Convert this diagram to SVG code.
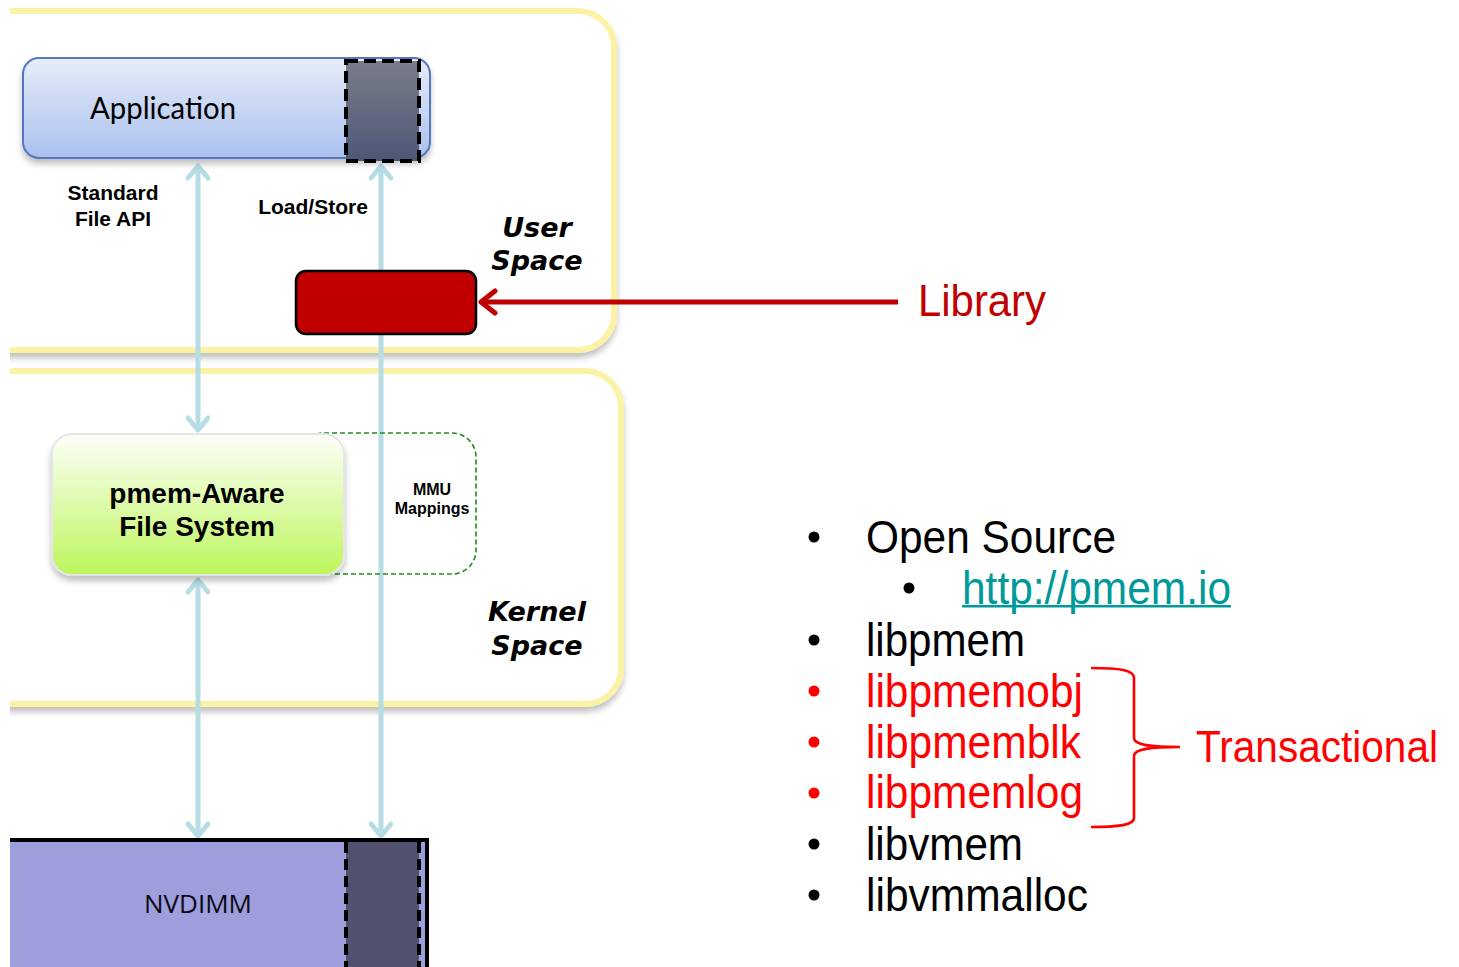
<svg xmlns="http://www.w3.org/2000/svg" width="1459" height="967" viewBox="0 0 1459 967">
  <defs>
    <linearGradient id="gApp" x1="0" y1="0" x2="0" y2="1">
      <stop offset="0" stop-color="#e6edfa"/>
      <stop offset="1" stop-color="#aac0ee"/>
    </linearGradient>
    <linearGradient id="gDark" x1="0" y1="0" x2="0" y2="1">
      <stop offset="0" stop-color="#7b7e89"/>
      <stop offset="1" stop-color="#4c5677"/>
    </linearGradient>
    <linearGradient id="gFs" x1="0" y1="0" x2="0" y2="1">
      <stop offset="0" stop-color="#fdfff8"/>
      <stop offset="1" stop-color="#bdf65c"/>
    </linearGradient>
    <filter id="shadow" x="-10%" y="-10%" width="120%" height="130%">
      <feGaussianBlur in="SourceAlpha" stdDeviation="3"/>
      <feOffset dx="0" dy="5" result="b"/>
      <feComponentTransfer><feFuncA type="linear" slope="0.25"/></feComponentTransfer>
      <feMerge><feMergeNode/><feMergeNode in="SourceGraphic"/></feMerge>
    </filter>
    <clipPath id="page"><rect x="10" y="0" width="1449" height="967"/></clipPath>
    <marker id="chev" viewBox="-16 -12 20 24" refX="0" refY="0" markerWidth="20" markerHeight="24" markerUnits="userSpaceOnUse" orient="auto-start-reverse">
      <path d="M-12,-10 L0,0 L-12,10" fill="none" stroke="#b5dde3" stroke-width="5" stroke-linecap="round" stroke-linejoin="round"/>
    </marker>
    <marker id="redchev" viewBox="-18 -14 22 28" refX="0" refY="0" markerWidth="22" markerHeight="28" markerUnits="userSpaceOnUse" orient="auto">
      <path d="M-14,-11 L0,0 L-14,11" fill="none" stroke="#c00000" stroke-width="5" stroke-linecap="round" stroke-linejoin="round"/>
    </marker>
    <style>
      .frame { fill: #ffffff; stroke: #fbf2a6; stroke-width: 6; }
      .flow { fill: none; stroke: #b5dde3; stroke-width: 5; }
      .lbl { font-family: "Liberation Sans", Arial, sans-serif; font-weight: bold; fill: #000; text-anchor: middle; }
      .zone { font-family: "DejaVu Sans", sans-serif; font-weight: bold; font-style: italic; font-size: 27px; fill: #000; text-anchor: middle; }
      .item { font-family: "Liberation Sans", Arial, sans-serif; font-size: 46px; }
      .blk { fill: #000; }
      .red { fill: #ff0000; }
    </style>
  </defs>

  <rect width="1459" height="967" fill="#ffffff"/>

  <!-- user / kernel space frames, left side runs off the page -->
  <g clip-path="url(#page)">
    <g id="user-space" filter="url(#shadow)">
      <rect class="frame" x="-60" y="11" width="674" height="339" rx="36"/>
    </g>
    <g id="kernel-space" filter="url(#shadow)">
      <rect class="frame" x="-60" y="371" width="681" height="333" rx="36"/>
    </g>
  </g>
  <text class="zone" x="537" y="237">User</text>
  <text class="zone" x="537" y="270">Space</text>
  <text class="zone" x="537" y="621">Kernel</text>
  <text class="zone" x="537" y="655">Space</text>

  <!-- connectors -->
  <g id="connectors">
    <line class="flow" x1="198" y1="166" x2="198" y2="430" marker-start="url(#chev)" marker-end="url(#chev)"/>
    <line class="flow" x1="198" y1="580" x2="198" y2="836" marker-start="url(#chev)" marker-end="url(#chev)"/>
    <line class="flow" x1="381" y1="166" x2="381" y2="836" marker-start="url(#chev)" marker-end="url(#chev)"/>
    <line x1="898" y1="302" x2="481" y2="302" stroke="#c00000" stroke-width="5" marker-end="url(#redchev)"/>
  </g>

  <!-- application -->
  <g id="application">
    <rect x="23" y="58" width="407" height="100" rx="16" fill="url(#gApp)" stroke="#5677bd" stroke-width="2" filter="url(#shadow)"/>
    <rect x="346" y="61" width="73" height="100" fill="url(#gDark)" stroke="#000" stroke-width="4" stroke-dasharray="12 6"/>
    <text x="90" y="119" font-family="Lato, 'Open Sans', sans-serif" font-size="31" fill="#000" textLength="146" lengthAdjust="spacingAndGlyphs">Application</text>
  </g>

  <g id="label-file-api">
    <text class="lbl" x="113" y="200" font-size="21">Standard</text>
    <text class="lbl" x="113" y="226" font-size="21">File API</text>
  </g>
  <g id="label-load-store">
    <text class="lbl" x="313" y="214" font-size="21">Load/Store</text>
  </g>

  <!-- library block -->
  <g id="library">
    <rect x="296" y="271" width="180" height="63" rx="10" fill="#c00000" stroke="#000" stroke-width="2.5"/>
  </g>
  <g id="library-label">
    <text x="918" y="316" font-family="'Liberation Sans', Arial, sans-serif" font-size="45" fill="#c00000" textLength="128" lengthAdjust="spacingAndGlyphs">Library</text>
  </g>

  <!-- MMU mappings region -->
  <g id="mmu-mappings">
    <rect x="300" y="433" width="176" height="141" rx="24" fill="none" stroke="#1f8a1f" stroke-width="1.6" stroke-dasharray="5 3"/>
    <text class="lbl" x="432" y="495" font-size="16">MMU</text>
    <text class="lbl" x="432" y="514" font-size="16">Mappings</text>
  </g>

  <!-- file system -->
  <g id="file-system">
    <rect x="52" y="434" width="292" height="141" rx="20" fill="url(#gFs)" stroke="#e6e6e6" stroke-width="2" filter="url(#shadow)"/>
    <text class="lbl" x="197" y="503" font-size="28">pmem-Aware</text>
    <text class="lbl" x="197" y="536" font-size="28">File System</text>
  </g>

  <!-- NVDIMM -->
  <g id="nvdimm" clip-path="url(#page)">
    <rect x="6" y="840" width="421" height="140" fill="#9e9edc" stroke="#000" stroke-width="4"/>
    <rect x="346" y="842" width="73" height="130" fill="#50516f"/>
    <line x1="346" y1="842" x2="346" y2="967" stroke="#000" stroke-width="4" stroke-dasharray="11 6"/>
    <line x1="419" y1="842" x2="419" y2="967" stroke="#000" stroke-width="4" stroke-dasharray="11 6"/>
    <text x="198" y="913" font-family="'Open Sans', 'DejaVu Sans', sans-serif" font-size="26" fill="#0a0a14" text-anchor="middle">NVDIMM</text>
  </g>

  <!-- library list -->
  <g id="library-list">
    <circle class="blk" cx="814" cy="537" r="5.5"/>
    <text class="item blk" x="866" y="553" textLength="250" lengthAdjust="spacingAndGlyphs">Open Source</text>
    <circle class="blk" cx="909" cy="588" r="5.5"/>
    <text class="item" x="962" y="604" fill="#009999" textLength="269" lengthAdjust="spacingAndGlyphs">http://pmem.io</text>
    <rect x="962" y="605" width="269" height="2.5" fill="#009999"/>
    <circle class="blk" cx="814" cy="640" r="5.5"/>
    <text class="item blk" x="866" y="656" textLength="159" lengthAdjust="spacingAndGlyphs">libpmem</text>
    <circle class="red" cx="814" cy="691" r="5.5"/>
    <text class="item red" x="866" y="707" textLength="217" lengthAdjust="spacingAndGlyphs">libpmemobj</text>
    <circle class="red" cx="814" cy="742" r="5.5"/>
    <text class="item red" x="866" y="758" textLength="215" lengthAdjust="spacingAndGlyphs">libpmemblk</text>
    <circle class="red" cx="814" cy="793" r="5.5"/>
    <text class="item red" x="866" y="808" textLength="217" lengthAdjust="spacingAndGlyphs">libpmemlog</text>
    <circle class="blk" cx="814" cy="844" r="5.5"/>
    <text class="item blk" x="866" y="860" textLength="157" lengthAdjust="spacingAndGlyphs">libvmem</text>
    <circle class="blk" cx="814" cy="895" r="5.5"/>
    <text class="item blk" x="866" y="911" textLength="222" lengthAdjust="spacingAndGlyphs">libvmmalloc</text>
  </g>

  <!-- brace grouping the transactional libraries -->
  <g id="transactional">
    <path d="M1091,668 C1120,668 1134,670 1134,678 L1134,738 C1134,745 1150,747 1180,747 C1150,747 1134,749 1134,756 L1134,818 C1134,825 1120,827 1091,827" fill="none" stroke="#ff0000" stroke-width="2.6"/>
    <text class="red" x="1196" y="762" font-family="'Liberation Sans', Arial, sans-serif" font-size="44" textLength="242" lengthAdjust="spacingAndGlyphs">Transactional</text>
  </g>
</svg>
